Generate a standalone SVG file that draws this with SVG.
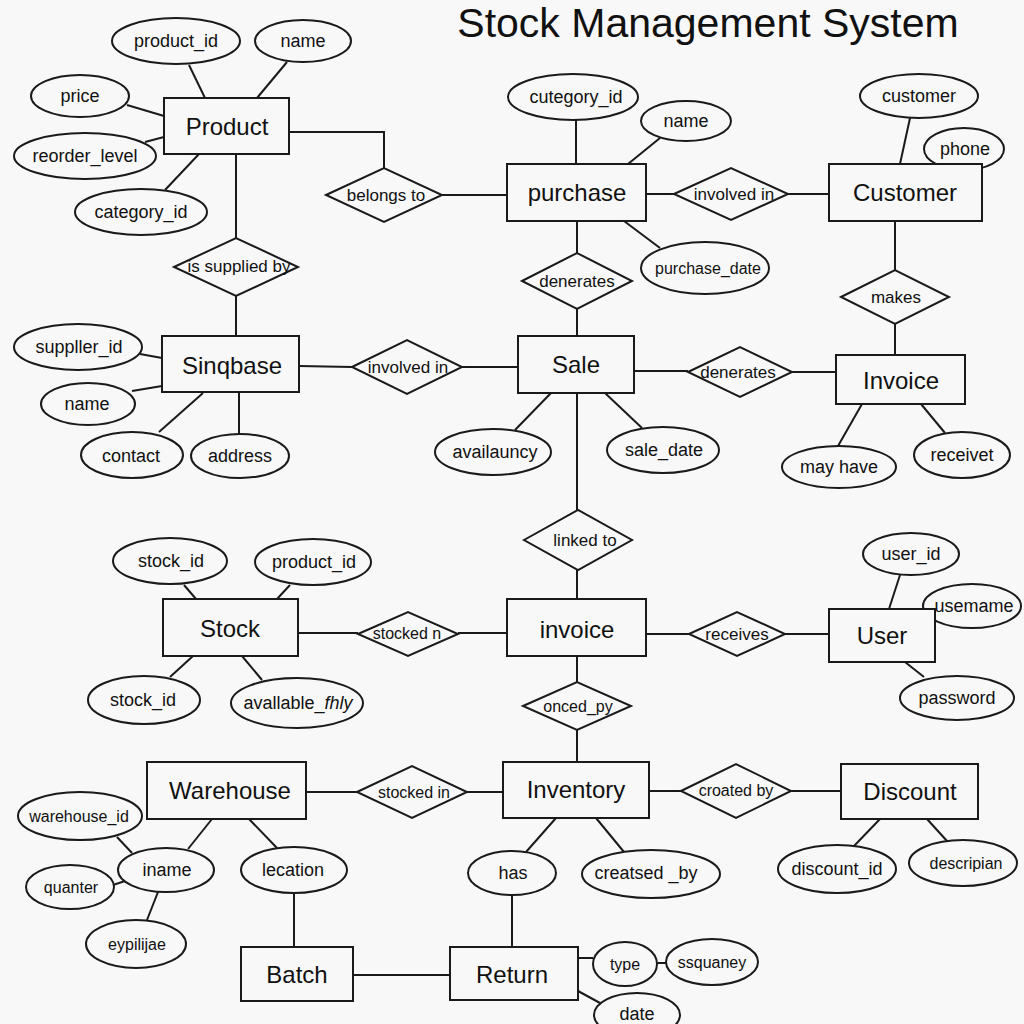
<svg xmlns="http://www.w3.org/2000/svg" width="1024" height="1024" viewBox="0 0 1024 1024">
<style>
  .bg{fill:#f8f8f8}
  rect.e{fill:#f8f8f8;stroke:#1a1a1a;stroke-width:2}
  ellipse.a{fill:#f8f8f8;stroke:#1a1a1a;stroke-width:2}
  polygon.r{fill:#f8f8f8;stroke:#1a1a1a;stroke-width:2}
  #connectors line,#connectors polyline{stroke:#1a1a1a;stroke-width:2;fill:none}
  text{font-family:"Liberation Sans",Arial,sans-serif;fill:#111;text-anchor:middle;dominant-baseline:central}
  .te{font-size:24px}
  .ta{font-size:18px}
  .ts{font-size:16px}
  .tr{font-size:17px}
  .title{font-size:41px;dominant-baseline:auto}
</style>
<rect class="bg" x="0" y="0" width="1024" height="1024"/>
<text class="title" x="708" y="37">Stock Management System</text>

<g id="connectors">
  <line x1="189" y1="65" x2="205" y2="98"/>
  <line x1="287" y1="62" x2="257" y2="98"/>
  <line x1="127" y1="105" x2="164" y2="116"/>
  <line x1="145" y1="142" x2="164" y2="137"/>
  <line x1="165" y1="190" x2="199" y2="154"/>
  <polyline points="289,132 384,132 384,168"/>
  <line x1="442" y1="195" x2="507" y2="195"/>
  <line x1="236" y1="154" x2="236" y2="238"/>
  <line x1="236" y1="296" x2="236" y2="336"/>

  <line x1="576" y1="120" x2="576" y2="164"/>
  <line x1="660" y1="138" x2="628" y2="164"/>
  <line x1="624" y1="221" x2="660" y2="248"/>
  <line x1="646" y1="194" x2="674" y2="194"/>
  <line x1="788" y1="194" x2="829" y2="194"/>
  <line x1="910" y1="118" x2="900" y2="164"/>
  <line x1="895" y1="221" x2="895" y2="270"/>
  <line x1="895" y1="324" x2="895" y2="355"/>
  <line x1="862" y1="404" x2="838" y2="446"/>
  <line x1="921" y1="404" x2="945" y2="433"/>
  <line x1="577" y1="221" x2="577" y2="253"/>
  <line x1="577" y1="309" x2="577" y2="336"/>

  <line x1="551" y1="393" x2="515" y2="430"/>
  <line x1="605" y1="393" x2="642" y2="428"/>
  <line x1="577" y1="393" x2="577" y2="510"/>
  <line x1="577" y1="570" x2="577" y2="599"/>
  <line x1="634" y1="371" x2="688" y2="371"/>
  <line x1="792" y1="372" x2="836" y2="372"/>

  <line x1="140" y1="354" x2="162" y2="358"/>
  <line x1="132" y1="391" x2="162" y2="386"/>
  <line x1="159" y1="432" x2="203" y2="393"/>
  <line x1="239" y1="392" x2="239" y2="434"/>
  <line x1="299" y1="366" x2="352" y2="367"/>
  <line x1="462" y1="367" x2="518" y2="367"/>

  <line x1="184" y1="585" x2="196" y2="599"/>
  <line x1="290" y1="585" x2="277" y2="599"/>
  <line x1="193" y1="656" x2="170" y2="677"/>
  <line x1="242" y1="656" x2="262" y2="680"/>
  <line x1="298" y1="633" x2="358" y2="633"/>
  <line x1="458" y1="633" x2="507" y2="633"/>
  <line x1="646" y1="634" x2="689" y2="634"/>
  <line x1="785" y1="634" x2="829" y2="634"/>
  <line x1="900" y1="575" x2="889" y2="609"/>
  <line x1="905" y1="662" x2="924" y2="677"/>
  <line x1="577" y1="656" x2="577" y2="682"/>
  <line x1="577" y1="730" x2="577" y2="762"/>

  <line x1="306" y1="792" x2="357" y2="792"/>
  <line x1="467" y1="792" x2="503" y2="792"/>
  <line x1="117" y1="837" x2="132" y2="853"/>
  <line x1="188" y1="849" x2="212" y2="819"/>
  <line x1="277" y1="848" x2="249" y2="819"/>
  <line x1="294" y1="893" x2="294" y2="947"/>
  <line x1="113" y1="885" x2="125" y2="881"/>
  <line x1="147" y1="920" x2="158" y2="892"/>
  <line x1="353" y1="975" x2="450" y2="975"/>
  <line x1="649" y1="791" x2="681" y2="791"/>
  <line x1="791" y1="791" x2="841" y2="791"/>
  <line x1="556" y1="818" x2="526" y2="852"/>
  <line x1="512" y1="895" x2="512" y2="947"/>
  <line x1="596" y1="818" x2="624" y2="852"/>
  <line x1="880" y1="819" x2="854" y2="846"/>
  <line x1="927" y1="819" x2="947" y2="841"/>
  <line x1="578" y1="958" x2="593" y2="958"/>
  <line x1="657" y1="963" x2="666" y2="963"/>
  <line x1="578" y1="991" x2="600" y2="1003"/>
</g>

<!-- Product -->
<g id="attr-product_id"><ellipse class="a" cx="176" cy="41" rx="64" ry="23"/><text class="ta" x="176" y="41">product_id</text></g>
<g id="attr-product_name"><ellipse class="a" cx="303" cy="41" rx="48" ry="21"/><text class="ta" x="303" y="41">name</text></g>
<g id="attr-price"><ellipse class="a" cx="80" cy="96" rx="49" ry="21"/><text class="ta" x="80" y="96">price</text></g>
<g id="attr-reorder_level"><ellipse class="a" cx="85" cy="156" rx="71" ry="23"/><text class="ta" x="85" y="156">reorder_level</text></g>
<g id="attr-category_id"><ellipse class="a" cx="141" cy="212" rx="66" ry="23"/><text class="ta" x="141" y="212">category_id</text></g>
<g id="ent-product"><rect class="e" x="164" y="98" width="125" height="56"/><text class="te" x="227" y="126">Product</text></g>
<g id="rel-belongs_to"><polygon class="r" points="326,195 384,168 442,195 384,222"/><text class="tr" x="386" y="195">belongs to</text></g>
<g id="rel-is_supplied_by"><polygon class="r" points="174,267 236,238 298,267 236,296"/><text class="tr" x="239" y="266">is supplied by</text></g>

<!-- purchase -->
<g id="attr-cutegory_id"><ellipse class="a" cx="573" cy="97" rx="65" ry="23"/><text class="ta" x="576" y="97">cutegory_id</text></g>
<g id="attr-purchase_name"><ellipse class="a" cx="686" cy="121" rx="45" ry="20"/><text class="ta" x="686" y="121">name</text></g>
<g id="attr-purchase_date"><ellipse class="a" cx="705" cy="268" rx="64" ry="26"/><text class="ts" x="708" y="268">purchase_date</text></g>
<g id="ent-purchase"><rect class="e" x="507" y="164" width="139" height="57"/><text class="te" x="577" y="192">purchase</text></g>
<g id="rel-involved_in_1"><polygon class="r" points="674,194 731,168 788,194 731,220"/><text class="tr" x="734" y="194">involved in</text></g>

<!-- Customer -->
<g id="attr-customer"><ellipse class="a" cx="919" cy="96" rx="59" ry="22"/><text class="ta" x="919" y="96">customer</text></g>
<g id="attr-phone"><ellipse class="a" cx="964" cy="149" rx="40" ry="21"/><text class="ta" x="965" y="149">phone</text></g>
<g id="ent-customer"><rect class="e" x="829" y="164" width="153" height="57"/><text class="te" x="905" y="192">Customer</text></g>
<g id="rel-makes"><polygon class="r" points="841,297 895,270 949,297 895,324"/><text class="tr" x="896" y="297">makes</text></g>
<g id="attr-may_have"><ellipse class="a" cx="839" cy="467" rx="57" ry="21"/><text class="ta" x="839" y="467">may have</text></g>
<g id="attr-receivet"><ellipse class="a" cx="962" cy="455" rx="48" ry="23"/><text class="ta" x="962" y="455">receivet</text></g>
<g id="ent-invoice_top"><rect class="e" x="836" y="355" width="129" height="49"/><text class="te" x="901" y="380">Invoice</text></g>

<!-- Sale -->
<g id="rel-denerates_1"><polygon class="r" points="522,281 577,253 632,281 577,309"/><text class="tr" x="577" y="281">denerates</text></g>
<g id="attr-availauncy"><ellipse class="a" cx="493" cy="452" rx="58" ry="23"/><text class="ta" x="495" y="452">availauncy</text></g>
<g id="attr-sale_date"><ellipse class="a" cx="663" cy="450" rx="56" ry="23"/><text class="ta" x="664" y="450">sale_date</text></g>
<g id="ent-sale"><rect class="e" x="518" y="336" width="116" height="57"/><text class="te" x="576" y="364">Sale</text></g>
<g id="rel-denerates_2"><polygon class="r" points="688,372 740,347 792,372 740,397"/><text class="tr" x="738" y="372">denerates</text></g>
<g id="rel-linked_to"><polygon class="r" points="524,540 578,510 632,540 578,570"/><text class="tr" x="585" y="540">linked to</text></g>

<!-- Sinqbase -->
<g id="attr-suppller_id"><ellipse class="a" cx="78" cy="347" rx="64" ry="23"/><text class="ta" x="79" y="347">suppller_id</text></g>
<g id="attr-sinq_name"><ellipse class="a" cx="88" cy="404" rx="47" ry="21"/><text class="ta" x="87" y="404">name</text></g>
<g id="attr-contact"><ellipse class="a" cx="132" cy="455" rx="51" ry="23"/><text class="ta" x="131" y="456">contact</text></g>
<g id="attr-address"><ellipse class="a" cx="240" cy="456" rx="49" ry="22"/><text class="ta" x="240" y="456">address</text></g>
<g id="ent-sinqbase"><rect class="e" x="162" y="336" width="137" height="56"/><text class="te" x="232" y="365">Sinqbase</text></g>
<g id="rel-involved_in_2"><polygon class="r" points="352,367 407,340 462,367 407,394"/><text class="tr" x="408" y="367">involved in</text></g>

<!-- Stock -->
<g id="attr-stock_id_1"><ellipse class="a" cx="170" cy="561" rx="57" ry="23"/><text class="ta" x="171" y="561">stock_id</text></g>
<g id="attr-stock_product_id"><ellipse class="a" cx="313" cy="562" rx="58" ry="23"/><text class="ta" x="314" y="562">product_id</text></g>
<g id="attr-stock_id_2"><ellipse class="a" cx="144" cy="700" rx="56" ry="24"/><text class="ta" x="143" y="700">stock_id</text></g>
<g id="attr-avallable_fhly"><ellipse class="a" cx="297" cy="703" rx="66" ry="25"/><text class="ta" x="298" y="703">avallable_<tspan font-style="italic">fhly</tspan></text></g>
<g id="ent-stock"><rect class="e" x="163" y="599" width="135" height="57"/><text class="te" x="230" y="628">Stock</text></g>
<g id="rel-stocked_n"><polygon class="r" points="358,634 408,612 458,634 408,656"/><text class="ts" x="407" y="633">stocked n</text></g>

<!-- invoice -->
<g id="ent-invoice"><rect class="e" x="507" y="599" width="139" height="57"/><text class="te" x="577" y="629">invoice</text></g>
<g id="rel-receives"><polygon class="r" points="689,634 737,612 785,634 737,656"/><text class="tr" x="737" y="634">receives</text></g>
<g id="attr-user_id"><ellipse class="a" cx="911" cy="554" rx="48" ry="21"/><text class="ta" x="911" y="554">user_id</text></g>
<g id="attr-usemame"><ellipse class="a" cx="972" cy="606" rx="49" ry="22"/><text class="ta" x="974" y="606">usemame</text></g>
<g id="ent-user"><rect class="e" x="829" y="609" width="106" height="53"/><text class="te" x="882" y="635">User</text></g>
<g id="attr-password"><ellipse class="a" cx="957" cy="698" rx="57" ry="22"/><text class="ta" x="957" y="698">password</text></g>
<g id="rel-onced_py"><polygon class="r" points="523,706 577,682 631,706 577,730"/><text class="ts" x="578" y="706">onced_py</text></g>

<!-- Warehouse -->
<g id="ent-warehouse"><rect class="e" x="147" y="762" width="159" height="57"/><text class="te" x="230" y="790">Warehouse</text></g>
<g id="rel-stocked_in"><polygon class="r" points="357,792 412,766 467,792 412,818"/><text class="ts" x="414" y="792">stocked in</text></g>
<g id="attr-warehouse_id"><ellipse class="a" cx="80" cy="816" rx="62" ry="24"/><text class="ts" x="79" y="816">warehouse_id</text></g>
<g id="attr-iname"><ellipse class="a" cx="166" cy="870" rx="48" ry="22"/><text class="ta" x="167" y="870">iname</text></g>
<g id="attr-location"><ellipse class="a" cx="294" cy="870" rx="53" ry="23"/><text class="ta" x="293" y="870">lecation</text></g>
<g id="attr-quanter"><ellipse class="a" cx="70" cy="887" rx="44" ry="22"/><text class="ts" x="71" y="887">quanter</text></g>
<g id="attr-eypilijae"><ellipse class="a" cx="136" cy="944" rx="50" ry="24"/><text class="ts" x="137" y="944">eypilijae</text></g>
<g id="ent-batch"><rect class="e" x="241" y="947" width="112" height="54"/><text class="te" x="297" y="974">Batch</text></g>

<!-- Inventory -->
<g id="ent-inventory"><rect class="e" x="503" y="762" width="146" height="56"/><text class="te" x="576" y="789">Inventory</text></g>
<g id="rel-croated_by"><polygon class="r" points="681,791 736,764 791,791 736,818"/><text class="ts" x="736" y="790">croated by</text></g>
<g id="ent-discount"><rect class="e" x="841" y="764" width="137" height="55"/><text class="te" x="910" y="791">Discount</text></g>
<g id="attr-has"><ellipse class="a" cx="512" cy="873" rx="44" ry="22"/><text class="ta" x="513" y="873">has</text></g>
<g id="attr-creatsed_by"><ellipse class="a" cx="651" cy="874" rx="69" ry="24"/><text class="ta" x="646" y="873">creatsed _by</text></g>
<g id="attr-discount_id"><ellipse class="a" cx="837" cy="869" rx="59" ry="24"/><text class="ta" x="837" y="869">discount_id</text></g>
<g id="attr-descripian"><ellipse class="a" cx="963" cy="863" rx="54" ry="23"/><text class="ts" x="966" y="863">descripian</text></g>

<!-- Return -->
<g id="ent-return"><rect class="e" x="450" y="947" width="128" height="53"/><text class="te" x="512" y="974">Return</text></g>
<g id="attr-type"><ellipse class="a" cx="625" cy="964" rx="32" ry="22"/><text class="ts" x="625" y="964">type</text></g>
<g id="attr-ssquaney"><ellipse class="a" cx="712" cy="962" rx="46" ry="23"/><text class="ts" x="712" y="962">ssquaney</text></g>
<g id="attr-date"><ellipse class="a" cx="637" cy="1015" rx="43" ry="22"/><text class="ta" x="637" y="1014">date</text></g>
</svg>
